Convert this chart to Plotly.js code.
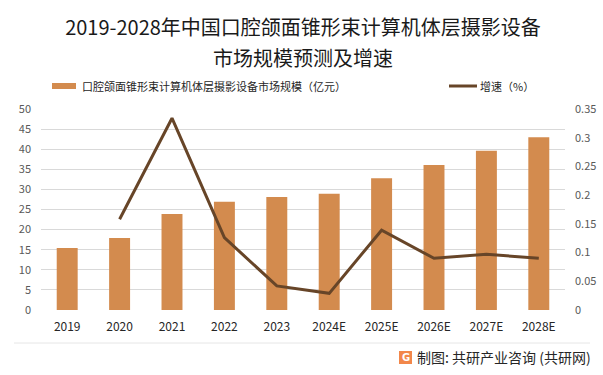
<!DOCTYPE html>
<html>
<head>
<meta charset="utf-8">
<script src="https://cdn.plot.ly/plotly-3.0.1.min.js"></script>
<style>html,body{margin:0;padding:0;background:#fff;}#chart{width:603px;height:375px;}</style>
</head>
<body>
<div id="chart"></div>
<script>
const years = ["2019","2020","2021","2022","2023","2024E","2025E","2026E","2027E","2028E"];
const marketSize = [15.4, 17.9, 23.9, 26.9, 28.1, 28.9, 32.8, 36.1, 39.6, 43.0];
const growthYears = ["2020","2021","2022","2023","2024E","2025E","2026E","2027E","2028E"];
const growthRate = [0.158, 0.334, 0.126, 0.042, 0.029, 0.139, 0.090, 0.097, 0.090];
const barName = "口腔颌面锥形束计算机体层摄影设备市场规模（亿元）";
const lineName = "增速（%）";
const titleLine1 = "2019-2028年中国口腔颌面锥形束计算机体层摄影设备";
const titleLine2 = "市场规模预测及增速";

const FONT = "'Noto Sans CJK SC', 'Noto Sans', sans-serif";
const barColor = "#D38B4E";
const lineColor = "#674528";

const data = [
  {type:"bar", x:years, y:marketSize, name:barName, marker:{color:barColor}, width:0.4, yaxis:"y", hoverinfo:"x+y"},
  {type:"scatter", mode:"lines", x:growthYears, y:growthRate, name:lineName, line:{color:lineColor, width:3}, yaxis:"y2"}
];

const py = v => (375-65-v)/201;
const px = v => (v-41)/524;

const layout = {
  width:603, height:375,
  margin:{l:41, r:38, t:109, b:65},
  paper_bgcolor:"#fff", plot_bgcolor:"#fff",
  showlegend:false,
  font:{family:FONT, size:11, color:"#595959"},
  title:{text:titleLine1, x:0.5, xanchor:"center", xref:"paper",
         y:1-28/375, yanchor:"middle", yref:"container",
         font:{family:FONT, size:20, color:"#1a1a1a"}},
  xaxis:{type:"category", categoryorder:"array", categoryarray:years, showgrid:false, zeroline:false, showline:false, ticks:"",
         tickfont:{family:FONT, size:12, color:"#262626"}, ticklabelstandoff:8, fixedrange:true},
  yaxis:{range:[0,50], dtick:5, showgrid:true, gridcolor:"#D9D9D9", gridwidth:1, zeroline:false, showline:false, ticks:"",
         tickfont:{family:FONT, size:11, color:"#595959"}, ticklabelstandoff:9},
  yaxis2:{range:[0,0.35], dtick:0.05, overlaying:"y", side:"right", showgrid:false, zeroline:false, showline:false, ticks:"",
          tickfont:{family:FONT, size:11, color:"#595959"}, ticklabelstandoff:9},
  shapes:[
    {type:"rect", xref:"paper", yref:"paper", x0:px(52), x1:px(76), y0:py(89), y1:py(83),
     fillcolor:barColor, line:{width:0}},
    {type:"line", xref:"paper", yref:"paper", x0:px(449), x1:px(477), y0:py(86), y1:py(86),
     line:{color:lineColor, width:3}},
    {type:"line", xref:"paper", yref:"paper", x0:px(14), x1:px(590), y0:py(343), y1:py(343),
     line:{color:"#E6E6E6", width:1}},
    {type:"rect", xref:"paper", yref:"paper", x0:px(399), x1:px(412), y0:py(364), y1:py(351),
     fillcolor:"#F2874A", line:{width:0}}
  ],
  annotations:[
    {xref:"paper", yref:"paper", x:0.5, y:py(57), xanchor:"center", yanchor:"middle", showarrow:false,
     text:titleLine2, font:{family:FONT, size:20, color:"#1a1a1a"}},
    {xref:"paper", yref:"paper", x:px(80), y:py(86), xanchor:"left", yanchor:"middle", showarrow:false,
     text:barName, font:{family:FONT, size:11, color:"#262626"}},
    {xref:"paper", yref:"paper", x:px(478), y:py(86), xanchor:"left", yanchor:"middle", showarrow:false,
     text:lineName, font:{family:FONT, size:11, color:"#262626"}},
    {xref:"paper", yref:"paper", x:px(405.5), y:py(357.5), xanchor:"center", yanchor:"middle", showarrow:false,
     text:"<b>G</b>", font:{family:"DejaVu Sans", size:10, color:"#ffffff"}},
    {xref:"paper", yref:"paper", x:px(593), y:py(357), xanchor:"right", yanchor:"middle", showarrow:false,
     text:"制图: 共研产业咨询 (共研网)", font:{family:FONT, size:14, color:"#262626"}}
  ]
};

Plotly.newPlot("chart", data, layout, {displayModeBar:false, staticPlot:true});
</script>
</body>
</html>
